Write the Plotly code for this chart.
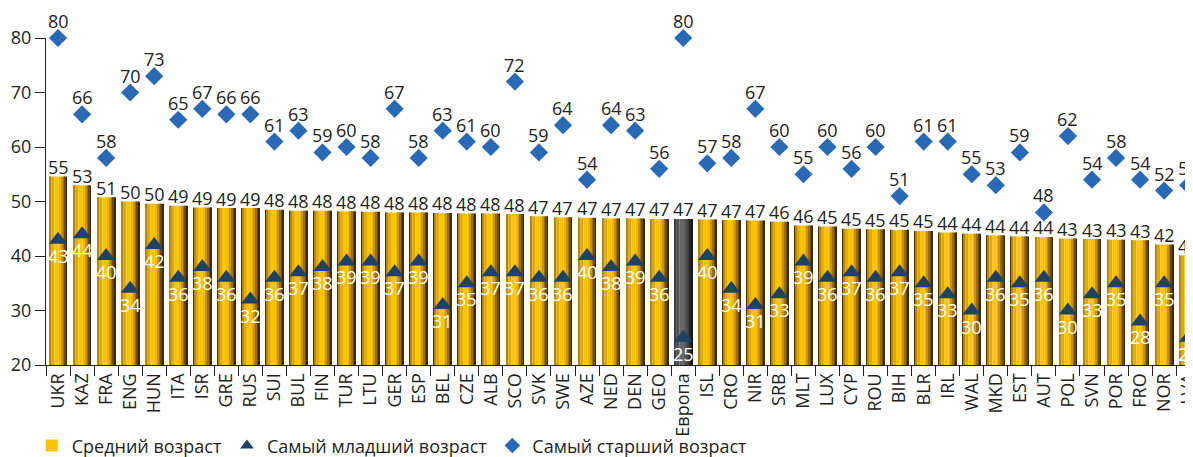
import plotly.graph_objects as go

categories = ["UKR", "KAZ", "FRA", "ENG", "HUN", "ITA", "ISR", "GRE", "RUS", "SUI", "BUL", "FIN",
              "TUR", "LTU", "GER", "ESP", "BEL", "CZE", "ALB", "SCO", "SVK", "SWE", "AZE", "NED",
              "DEN", "GEO", "Европа", "ISL", "CRO", "NIR", "SRB", "MLT", "LUX", "CYP", "ROU", "BIH",
              "BLR", "IRL", "WAL", "MKD", "EST", "AUT", "POL", "SVN", "POR", "FRO", "NOR", "LVA"]

average_age = [55, 53, 51, 50, 50, 49, 49, 49, 49, 48, 48, 48, 48, 48, 48, 48, 48, 48, 48, 48,
               47, 47, 47, 47, 47, 47, 47, 47, 47, 47, 46, 46, 45, 45, 45, 45, 45, 44, 44, 44,
               44, 44, 43, 43, 43, 43, 42, 40]
average_plot = [54.6, 53.0, 50.8, 50.0, 49.6, 49.2, 48.9, 48.8, 48.8, 48.5, 48.3, 48.3, 48.2, 48.1,
                48.0, 48.0, 47.9, 47.8, 47.8, 47.7, 47.3, 47.1, 47.0, 46.9, 46.9, 46.8, 46.8, 46.7,
                46.6, 46.5, 46.3, 45.6, 45.4, 45.0, 44.9, 44.8, 44.6, 44.3, 44.1, 43.8, 43.6, 43.5,
                43.2, 43.1, 43.0, 42.9, 42.1, 40.1]

youngest_age = [43, 44, 40, 34, 42, 36, 38, 36, 32, 36, 37, 38, 39, 39, 37, 39, 31, 35, 37, 37,
                36, 36, 40, 38, 39, 36, 25, 40, 34, 31, 33, 39, 36, 37, 36, 37, 35, 33, 30, 36,
                35, 36, 30, 33, 35, 28, 35, 25]

oldest_age = [80, 66, 58, 70, 73, 65, 67, 66, 66, 61, 63, 59, 60, 58, 67, 58, 63, 61, 60, 72,
              59, 64, 54, 64, 63, 56, 80, 57, 58, 67, 60, 55, 60, 56, 60, 51, 61, 61, 55, 53,
              59, 48, 62, 54, 58, 54, 52, 53]

y_ticks = [20, 30, 40, 50, 60, 70, 80]
legend_names = ["Средний возраст", "Самый младший возраст", "Самый старший возраст"]
highlight = "Европа"

FONT = "Open Sans, Noto Sans, DejaVu Sans, sans-serif"
TXT = "#231f20"
FS = 18

# cylinder shading strips: (left offset, right offset, gold colour, grey colour)
strips = [
    (-0.37, -0.345, "#4a3300", "#1a1a1a"),
    (-0.345, -0.27, "#b88600", "#3c3c3c"),
    (-0.27, -0.15, "#e2a900", "#505050"),
    (-0.15, 0.03, "#fcc300", "#666666"),
    (0.03, 0.13, "#f2b500", "#5a5a5a"),
    (0.13, 0.21, "#cc9300", "#4a4a4a"),
    (0.21, 0.28, "#9c6e00", "#3a3a3a"),
    (0.28, 0.34, "#6a4a00", "#2a2a2a"),
    (0.34, 0.37, "#3a2800", "#151515"),
]

fig = go.Figure()

for i, (a, b, gold, grey) in enumerate(strips):
    cols = [grey if c == highlight else gold for c in categories]
    fig.add_trace(go.Bar(
        x=categories, y=average_plot,
        offset=a, width=b - a,
        marker=dict(color=cols, line=dict(width=0)),
        name=legend_names[0],
        showlegend=(i == 3),
        legendrank=1,
        hoverinfo="skip",
    ))

# oldest
fig.add_trace(go.Scatter(
    x=categories, y=oldest_age, mode="markers",
    marker=dict(symbol="diamond", size=14, color="#2a69b5"),
    name=legend_names[2], legendrank=3, cliponaxis=False,
))

# youngest
fig.add_trace(go.Scatter(
    x=categories, y=youngest_age, mode="markers",
    marker=dict(symbol="triangle-up", size=16, color="#1d4167"),
    name=legend_names[1], legendrank=2, cliponaxis=False,
))

annotations = []
for c, v, lab in zip(categories, average_plot, average_age):
    annotations.append(dict(x=c, y=v, text=str(lab), showarrow=False, yanchor="middle",
                            yshift=9.5, font=dict(family=FONT, size=FS, color=TXT)))
for c, v in zip(categories, oldest_age):
    annotations.append(dict(x=c, y=v, text=str(v), showarrow=False, yanchor="middle",
                            yshift=17, font=dict(family=FONT, size=FS, color=TXT)))
for c, v in zip(categories, youngest_age):
    annotations.append(dict(x=c, y=v, text=str(v), showarrow=False, yanchor="middle",
                            yshift=-16, font=dict(family=FONT, size=FS, color="white")))

fig.update_layout(
    width=1185, height=449,
    margin=dict(l=38, r=0, t=30, b=92, autoexpand=False),
    paper_bgcolor="white", plot_bgcolor="white",
    barmode="overlay",
    font=dict(family=FONT, size=FS, color=TXT),
    showlegend=True,
    annotations=annotations,
    legend=dict(orientation="h", x=0.02, xref="container", xanchor="left",
                y=0.025, yref="container", yanchor="middle",
                font=dict(family=FONT, size=FS, color=TXT), itemsizing="constant",
                tracegroupgap=0, bgcolor="rgba(0,0,0,0)"),
)

fig.update_xaxes(
    type="category", categoryorder="array", categoryarray=categories,
    range=[-0.5, 47.2], automargin=False,
    showline=True, linecolor="#231f20", linewidth=1.2,
    ticks="outside", tickson="boundaries", ticklen=10, tickcolor="#231f20",
    tickangle=-90, tickfont=dict(family=FONT, size=FS, color=TXT),
    showgrid=False, zeroline=False,
)
fig.update_yaxes(
    range=[20, 80], tickvals=y_ticks, automargin=False,
    showline=True, linecolor="#231f20", linewidth=1.2,
    ticks="outside", ticklen=10, tickcolor="#231f20",
    tickfont=dict(family=FONT, size=FS, color=TXT),
    showgrid=False, zeroline=False,
)

fig.write_html("out.html")
